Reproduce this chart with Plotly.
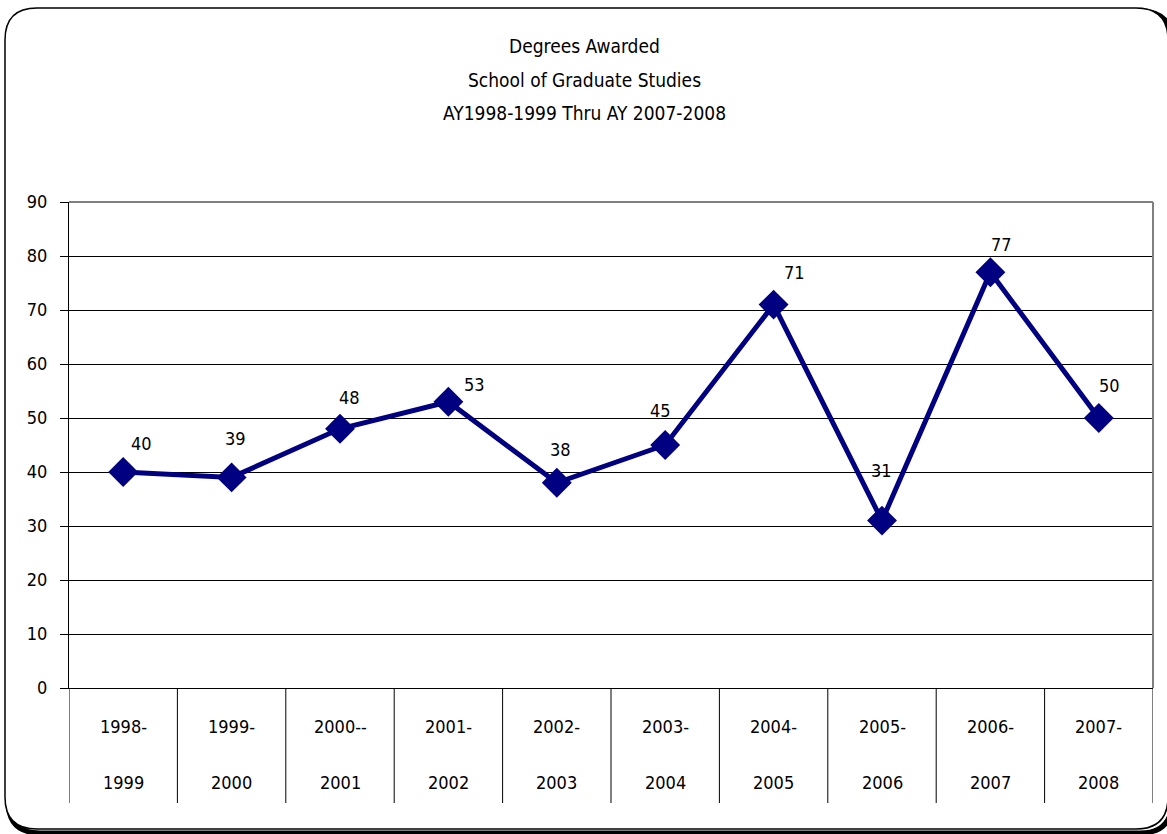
import plotly.graph_objects as go

years_top = ["1998-", "1999-", "2000--", "2001-", "2002-", "2003-", "2004-", "2005-", "2006-", "2007-"]
years_bottom = ["1999", "2000", "2001", "2002", "2003", "2004", "2005", "2006", "2007", "2008"]
degrees = [40, 39, 48, 53, 38, 45, 71, 31, 77, 50]
y_ticks = [0, 10, 20, 30, 40, 50, 60, 70, 80, 90]
title_lines = ["Degrees Awarded", "School of Graduate Studies", "AY1998-1999 Thru AY 2007-2008"]

# data-label placement offsets in pixels (style, not data)
label_dx = [18, 4, 9, 26, 4, -5, 21, -1, 11, 11]
label_dy = [29, 39, 31, 17, 33, 35, 32, 50, 28, 33]

FONT = "DejaVu Sans Condensed, Liberation Sans Narrow, sans-serif"
W, H = 1167, 834
L, R, T, B = 69, 14, 202, 146
pw, ph = W - L - R, H - T - B

def px(x):
    return (x - L) / pw

def py(y):
    return (H - B - y) / ph

idx = list(range(len(degrees)))

fig = go.Figure()
fig.add_trace(go.Scatter(
    x=idx, y=degrees, mode="lines+markers",
    line=dict(color="#000080", width=5),
    marker=dict(symbol="diamond", size=23, color="#000080"),
    hoverinfo="skip", showlegend=False, cliponaxis=False,
))

annotations = []
for i, v, dx, dy in zip(idx, degrees, label_dx, label_dy):
    annotations.append(dict(x=i, y=v, xref="x", yref="y", text=str(v), showarrow=False,
                            xanchor="center", yanchor="middle",
                            xshift=dx, yshift=dy, font=dict(family=FONT, size=18, color="black")))
for i, (a, b) in enumerate(zip(years_top, years_bottom)):
    annotations.append(dict(x=i, y=py(726), xref="x", yref="paper", text=a, showarrow=False,
                            xanchor="center", yanchor="middle",
                            font=dict(family=FONT, size=18, color="black")))
    annotations.append(dict(x=i, y=py(782), xref="x", yref="paper", text=b, showarrow=False,
                            xanchor="center", yanchor="middle",
                            font=dict(family=FONT, size=18, color="black")))
for k, line in enumerate(title_lines):
    annotations.append(dict(x=px(584), y=py(46 + 33.5 * k), xref="paper", yref="paper", text=line,
                            xanchor="center", yanchor="middle",
                            showarrow=False, font=dict(family=FONT, size=19, color="black")))

shapes = []
for k in range(len(degrees) + 1):
    shapes.append(dict(type="line", xref="x", yref="paper", x0=k - 0.5, x1=k - 0.5,
                       y0=0, y1=py(803), line=dict(color="black", width=1)))
shapes.append(dict(type="line", xref="paper", yref="paper", x0=0, x1=1, y0=1, y1=1,
                   line=dict(color="#808080", width=2), layer="above"))
shapes.append(dict(type="line", xref="paper", yref="paper", x0=1, x1=1, y0=0, y1=1,
                   line=dict(color="#808080", width=2), layer="above"))

def rounded_path(x0, y0, x1, y1, r):
    pts = [
        ("M", (x0 + r, y0)), ("L", (x1 - r, y0)), ("Q", (x1, y0), (x1, y0 + r)),
        ("L", (x1, y1 - r)), ("Q", (x1, y1), (x1 - r, y1)), ("L", (x0 + r, y1)),
        ("Q", (x0, y1), (x0, y1 - r)), ("L", (x0, y0 + r)), ("Q", (x0, y0), (x0 + r, y0)),
    ]
    s = ""
    for p in pts:
        coords = " ".join(f"{px(a):.5f},{py(b):.5f}" for a, b in p[1:])
        s += f"{p[0]}{coords} "
    return s + "Z"

shapes.append(dict(type="path", xref="paper", yref="paper", path=rounded_path(8, 11, 1172, 833, 32),
                   line=dict(color="black", width=5), layer="below"))
shapes.append(dict(type="path", xref="paper", yref="paper", path=rounded_path(5, 8, 1168, 829, 32),
                   line=dict(color="black", width=1.5), fillcolor="white", layer="below"))

fig.update_layout(
    width=W, height=H,
    margin=dict(l=L, r=R, t=T, b=B),
    paper_bgcolor="white", plot_bgcolor="rgba(0,0,0,0)",
    annotations=annotations, shapes=shapes,
    xaxis=dict(range=[-0.5, len(degrees) - 0.5], showticklabels=False, showgrid=False,
               zeroline=False, showline=True, linecolor="black", linewidth=1, ticks=""),
    yaxis=dict(range=[0, 90], tickvals=y_ticks, ticktext=[str(t) for t in y_ticks],
               showgrid=True, gridcolor="black", gridwidth=1, zeroline=False,
               showline=True, linecolor="black", linewidth=1, ticks="outside", ticklen=8,
               ticklabelstandoff=9,
               tickcolor="black", tickfont=dict(family=FONT, size=18, color="black")),
)

fig.write_html("out.html", config={"displayModeBar": False},
               post_script="document.body.style.margin='0';document.body.style.overflow='hidden';")
